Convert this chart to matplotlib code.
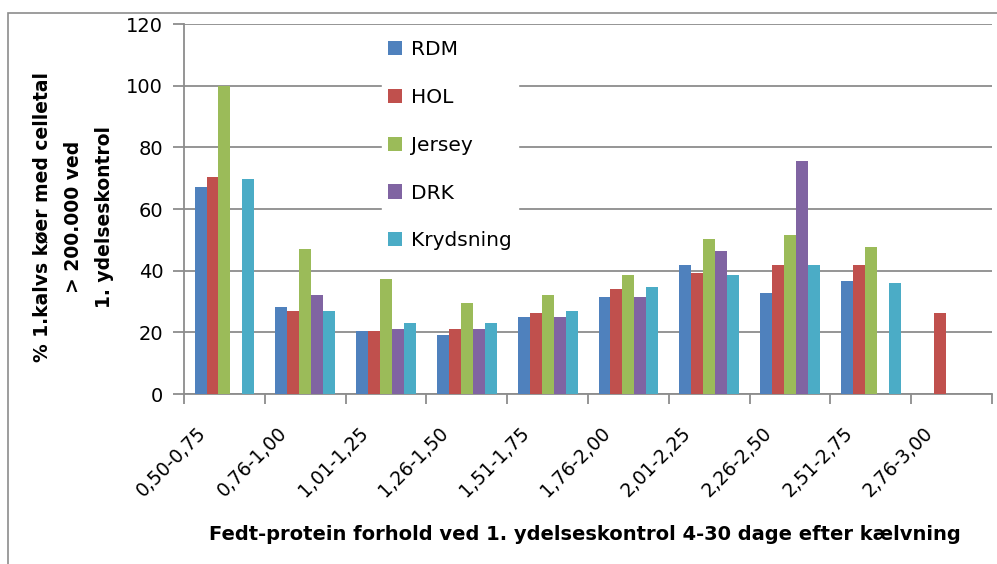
import numpy as np
import matplotlib.pyplot as plt
import matplotlib.transforms as mtransforms
from matplotlib.patches import Rectangle

plt.rcParams['font.family'] = ['DejaVu Sans']

# ====================== DATA ======================
categories = ['0,50-0,75', '0,76-1,00', '1,01-1,25', '1,26-1,50', '1,51-1,75',
              '1,76-2,00', '2,01-2,25', '2,26-2,50', '2,51-2,75', '2,76-3,00']
series_names = ['RDM', 'HOL', 'Jersey', 'DRK', 'Krydsning']
rdm    = [67.1, 28.2, 20.4, 19.1, 25.0, 31.5, 41.8, 32.8, 36.7, np.nan]
hol    = [70.4, 26.9, 20.4, 21.1, 26.3, 34.0, 39.2, 41.8, 41.8, 26.3]
jersey = [100.0, 47.0, 37.3, 29.5, 32.1, 38.6, 50.3, 51.6, 47.7, np.nan]
drk    = [np.nan, 32.1, 21.1, 21.1, 25.0, 31.5, 46.4, 75.6, np.nan, np.nan]
kryds  = [69.7, 26.9, 23.0, 23.0, 26.9, 34.7, 38.6, 41.8, 36.0, np.nan]
colors = ['#4F81BD', '#C0504D', '#9BBB59', '#8064A2', '#4BACC6']

# ====================== PLOT ======================
fig = plt.figure(figsize=(9.97, 5.64), dpi=100)
ax = fig.add_axes([0.1846, 0.3014, 0.8104, 0.656])

# chart frame
fig.patches.append(Rectangle((8 / 997, -0.01), 1.0, 1 - 13 / 564 + 0.01,
                             transform=fig.transFigure, fill=False,
                             edgecolor='#8c8c8c', linewidth=1.2))

x = np.arange(len(categories))
w = 0.148
all_series = [rdm, hol, jersey, drk, kryds]
for i, (vals, name, c) in enumerate(zip(all_series, series_names, colors)):
    ax.bar(x + (i - 2) * w, vals, width=w, color=c, label=name, zorder=3)

ax.set_xlim(-0.5, len(categories) - 0.5)
ax.set_ylim(0, 120)
ax.set_yticks(range(0, 121, 20))
ax.grid(axis='y', color='#8c8c8c', linewidth=1.3, zorder=0)

ax.set_xticks(np.arange(len(categories) + 1) - 0.5, minor=False)
ax.set_xticklabels([])
ax.set_xticks(x, minor=True)
ax.set_xticklabels(categories, minor=True, rotation=45, ha='right',
                   rotation_mode='anchor', fontsize=13.5)
ax.tick_params(axis='x', which='minor', length=0, pad=0)
ax.tick_params(axis='x', which='major', length=7, color='#8c8c8c', width=1.3)
ax.tick_params(axis='y', length=8, color='#8c8c8c', width=1.3, labelsize=14, pad=7)
shift = mtransforms.ScaledTranslation(-28 / 100, -29 / 100, fig.dpi_scale_trans)
for lbl in ax.get_xticklabels(minor=True):
    lbl.set_transform(lbl.get_transform() + shift)

for s in ['top', 'right']:
    ax.spines[s].set_visible(False)
for s in ['left', 'bottom']:
    ax.spines[s].set_color('#8c8c8c')
    ax.spines[s].set_linewidth(1.3)

ax.set_ylabel('% 1.kalvs køer med celletal\n> 200.000 ved\n1. ydelseskontrol',
              fontsize=13.5, fontweight='bold', linespacing=1.8, va='center')
ax.yaxis.set_label_coords(-0.1374, 0.478)
ax.set_xlabel('Fedt-protein forhold ved 1. ydelseskontrol 4-30 dage efter kælvning',
              fontsize=14, fontweight='bold', va='center')
ax.xaxis.set_label_coords(0.496, -0.381)

leg = ax.legend(loc='upper left', bbox_to_anchor=(0.232, 1.0), fontsize=14.5,
                frameon=True, fancybox=False, edgecolor='white', framealpha=1,
                handlelength=0.7, handleheight=0.7, labelspacing=1.43,
                borderpad=0.3, handletextpad=0.45)
leg.set_zorder(5)

plt.savefig('out.png', dpi=100)
